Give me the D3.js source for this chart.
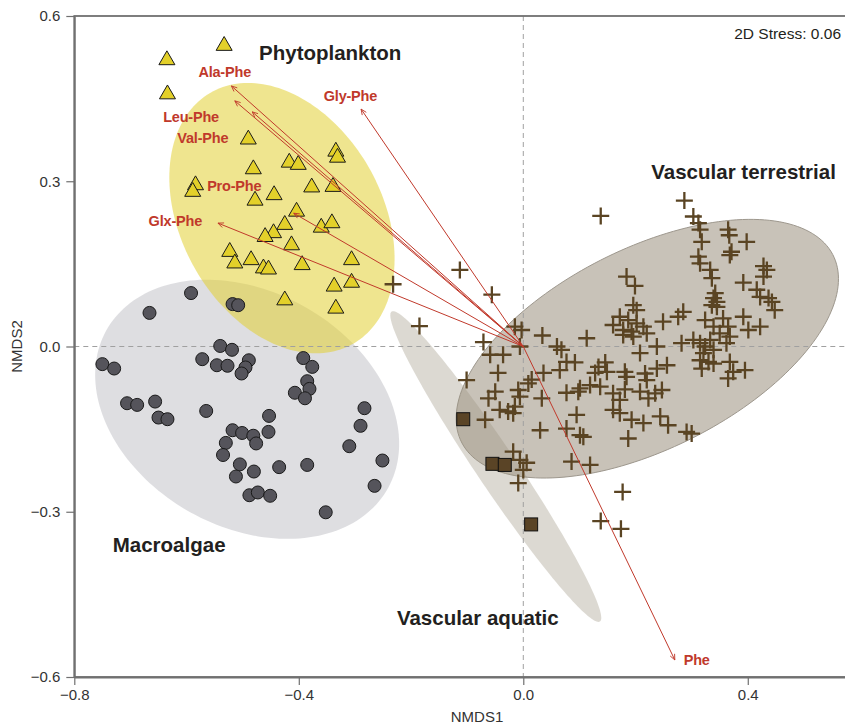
<!DOCTYPE html>
<html>
<head>
<meta charset="utf-8">
<script src="https://cdn.jsdelivr.net/npm/d3@7"></script>
<style>
  body { margin: 0; background: #fff; }
  svg { display: block; }
  text { font-family: "Liberation Sans", Arial, sans-serif; }
</style>
</head>
<body>
<svg id="chart" width="845" height="725"></svg>
<script>
// NMDS site scores (NMDS1, NMDS2) per source group
const phytoplankton = [
  [-0.635, 0.520], [-0.533, 0.546], [-0.634, 0.458], [-0.490, 0.376], [-0.481, 0.322],
  [-0.584, 0.293], [-0.589, 0.281], [-0.478, 0.265], [-0.444, 0.275], [-0.417, 0.334],
  [-0.401, 0.330], [-0.377, 0.289], [-0.339, 0.290], [-0.334, 0.354], [-0.331, 0.343],
  [-0.404, 0.245], [-0.425, 0.221], [-0.445, 0.206], [-0.460, 0.199], [-0.360, 0.216],
  [-0.341, 0.224], [-0.413, 0.184], [-0.523, 0.172], [-0.514, 0.151], [-0.485, 0.157],
  [-0.463, 0.142], [-0.454, 0.140], [-0.394, 0.148], [-0.306, 0.157], [-0.306, 0.116],
  [-0.337, 0.109], [-0.425, 0.084], [-0.334, 0.069]
];

const macroalgae = [
  [-0.592, 0.097], [-0.518, 0.077], [-0.508, 0.075], [-0.666, 0.061], [-0.540, 0.001],
  [-0.519, -0.006], [-0.572, -0.023], [-0.546, -0.034], [-0.527, -0.035], [-0.489, -0.025],
  [-0.495, -0.038], [-0.502, -0.049], [-0.750, -0.032], [-0.729, -0.040], [-0.392, -0.021],
  [-0.376, -0.037], [-0.385, -0.063], [-0.381, -0.077], [-0.407, -0.084], [-0.389, -0.094],
  [-0.706, -0.103], [-0.688, -0.106], [-0.656, -0.100], [-0.650, -0.129], [-0.634, -0.132],
  [-0.565, -0.117], [-0.283, -0.112], [-0.290, -0.144], [-0.453, -0.126], [-0.518, -0.152],
  [-0.501, -0.157], [-0.481, -0.162], [-0.476, -0.176], [-0.454, -0.155], [-0.530, -0.175],
  [-0.535, -0.197], [-0.505, -0.214], [-0.480, -0.227], [-0.512, -0.236], [-0.435, -0.219],
  [-0.385, -0.215], [-0.310, -0.181], [-0.251, -0.207], [-0.265, -0.253], [-0.488, -0.270],
  [-0.473, -0.265], [-0.451, -0.271], [-0.352, -0.301]
];

const vascularAquatic = [
  [-0.107, -0.132], [-0.055, -0.213], [-0.033, -0.215], [0.014, -0.323]
];

const vascularTerrestrial = [
  [0.138, 0.237], [0.287, 0.265], [0.303, 0.236], [0.312, 0.224], [0.315, 0.212],
  [0.318, 0.190], [0.312, 0.163], [0.315, 0.151], [0.333, 0.139], [0.336, 0.124],
  [0.365, 0.212], [0.367, 0.202], [0.398, 0.190], [0.371, 0.172], [0.368, 0.166],
  [0.428, 0.146], [0.434, 0.139], [0.428, 0.127], [0.392, 0.116], [0.416, 0.103],
  [0.422, 0.090], [0.437, 0.088], [0.443, 0.081], [0.448, 0.066], [0.342, 0.097],
  [0.339, 0.088], [0.345, 0.081], [0.345, 0.072], [0.336, 0.075], [0.184, 0.127],
  [0.199, 0.110], [0.196, 0.075], [0.202, 0.066], [0.172, 0.054], [0.187, 0.048],
  [0.202, 0.042], [0.214, 0.036], [0.160, 0.039], [0.178, 0.030], [0.193, 0.027],
  [0.220, 0.024], [0.196, 0.018], [0.178, 0.021], [0.249, 0.045], [0.285, 0.063],
  [0.276, 0.054], [0.324, 0.048], [0.339, 0.036], [0.356, 0.051], [0.365, 0.036],
  [0.392, 0.054], [0.401, 0.030], [0.422, 0.036], [0.350, 0.024], [0.368, 0.018],
  [0.362, 0.006], [0.333, 0.012], [0.324, 0.000], [0.315, 0.006], [0.303, 0.012],
  [0.282, 0.006], [0.339, -0.006], [0.321, -0.012], [0.315, -0.025], [0.330, -0.028],
  [0.339, -0.031], [0.318, -0.040], [0.368, -0.028], [0.374, -0.046], [0.365, -0.058],
  [0.395, -0.043], [0.238, 0.000], [0.208, -0.012], [0.113, 0.015], [0.034, 0.020],
  [0.060, 0.000], [0.068, -0.006], [0.077, -0.028], [0.092, -0.029], [0.065, -0.043],
  [0.036, -0.048], [0.015, -0.060], [0.009, -0.067], [0.134, -0.037], [0.146, -0.029],
  [0.149, -0.046], [0.128, -0.048], [0.181, -0.046], [0.184, -0.055], [0.217, -0.049],
  [0.220, -0.061], [0.238, -0.040], [0.256, -0.034], [0.101, -0.076], [0.119, -0.070],
  [0.137, -0.073], [0.160, -0.085], [0.181, -0.078], [0.172, -0.097], [0.208, -0.082],
  [0.223, -0.094], [0.247, -0.079], [0.235, -0.085], [0.077, -0.084], [0.098, -0.082],
  [0.033, -0.094], [0.160, -0.115], [0.172, -0.121], [0.193, -0.133], [0.214, -0.139],
  [0.244, -0.127], [0.258, -0.143], [0.095, -0.124], [0.077, -0.149], [0.101, -0.161],
  [0.107, -0.164], [0.187, -0.167], [0.291, -0.155], [0.300, -0.158], [0.030, -0.152],
  [0.086, -0.209], [0.119, -0.215], [-0.009, -0.079], [-0.006, -0.091], [-0.015, -0.109],
  [-0.027, -0.118], [-0.018, -0.121], [-0.042, -0.115], [-0.050, -0.082], [-0.062, -0.094],
  [-0.068, -0.133], [-0.101, -0.061], [-0.045, -0.048], [-0.059, -0.015], [-0.036, -0.015],
  [-0.071, 0.008], [-0.006, 0.000], [-0.015, 0.036], [-0.003, 0.030], [-0.113, 0.139],
  [-0.056, 0.094], [-0.185, 0.037], [-0.232, 0.113], [-0.018, -0.191], [-0.006, -0.206],
  [0.006, -0.211], [0.000, -0.224], [-0.009, -0.248], [0.177, -0.264], [0.138, -0.317],
  [0.174, -0.331]
];

// Amino acid vectors (fitted onto the ordination)
const vectorNames = ["Ala-Phe", "Leu-Phe", "Val-Phe", "Gly-Phe", "Pro-Phe", "Glx-Phe", "Phe"];
const vectorX = [-0.520, -0.514, -0.483, -0.289, -0.409, -0.544, 0.270];
const vectorY = [0.473, 0.446, 0.426, 0.431, 0.242, 0.224, -0.569];
const vectorLabelX = [-0.532, -0.592, -0.571, -0.308, -0.515, -0.620, 0.309];
const vectorLabelY = [0.498, 0.417, 0.378, 0.455, 0.292, 0.227, -0.569];

// Group ellipses: centre, semi-axes and rotation (degrees), in NMDS units
const ellipseNames = ["Vascular terrestrial", "Vascular aquatic", "Macroalgae", "Phytoplankton"];
const ellipseCx = [0.221, -0.049, -0.492, -0.430];
const ellipseCy = [-0.004, -0.218, -0.114, 0.233];
const ellipseA = [0.372, 0.337, 0.289, 0.261];
const ellipseB = [0.181, 0.036, 0.2125, 0.180];
const ellipseAngle = [27.4, -56.6, -31.0, -62.0];

// Group name labels
const groupLabels = ["Phytoplankton", "Vascular terrestrial", "Macroalgae", "Vascular aquatic"];
const groupLabelX = [-0.344, 0.557, -0.631, -0.081];
const groupLabelY = [0.520, 0.304, -0.373, -0.506];
const groupLabelAnchor = ["middle", "end", "middle", "middle"];

const xTicks = [-0.8, -0.4, 0.0, 0.4];
const yTicks = [-0.6, -0.3, 0.0, 0.3, 0.6];
const stressText = "2D Stress: 0.06";

// ---------------------------------------------------------------
const svg = d3.select("#chart");

const x = d3.scaleLinear().domain([-0.8, 0.58]).range([74.3, 848.8]);
const y = d3.scaleLinear().domain([-0.6, 0.6]).range([677, 16]);

const ellipseStyle = {
  "Vascular terrestrial": { fill: "#918571", opacity: 0.5, stroke: "#9d978d" },
  "Vascular aquatic":     { fill: "#9b927e", opacity: 0.35, stroke: "none" },
  "Macroalgae":           { fill: "#d8d8dc", opacity: 0.85, stroke: "none" },
  "Phytoplankton":        { fill: "#e2d033", opacity: 0.55, stroke: "none" }
};

const defs = svg.append("defs");
defs.append("clipPath").attr("id", "plotClip")
  .append("rect")
  .attr("x", x(-0.8)).attr("y", y(0.6))
  .attr("width", x(0.58) - x(-0.8)).attr("height", y(-0.6) - y(0.6));

defs.append("marker")
  .attr("id", "arrowHead")
  .attr("viewBox", "0 0 10 10")
  .attr("refX", 9).attr("refY", 5)
  .attr("markerWidth", 7).attr("markerHeight", 7)
  .attr("markerUnits", "userSpaceOnUse")
  .attr("orient", "auto")
  .append("path")
  .attr("d", "M1,1.5 L9,5 L1,8.5")
  .attr("fill", "none")
  .attr("stroke", "#c0392b")
  .attr("stroke-width", 1.2);

const plot = svg.append("g").attr("clip-path", "url(#plotClip)");

// Ellipses
const ellipseLine = d3.line().x(d => x(d[0])).y(d => y(d[1])).curve(d3.curveLinearClosed);
ellipseNames.forEach((name, i) => {
  const th = ellipseAngle[i] * Math.PI / 180;
  const pts = d3.range(0, 360, 2).map(deg => {
    const t = deg * Math.PI / 180;
    const ex = ellipseA[i] * Math.cos(t), ey = ellipseB[i] * Math.sin(t);
    return [ellipseCx[i] + ex * Math.cos(th) - ey * Math.sin(th),
            ellipseCy[i] + ex * Math.sin(th) + ey * Math.cos(th)];
  });
  const st = ellipseStyle[name];
  plot.append("path")
    .attr("d", ellipseLine(pts))
    .attr("fill", st.fill)
    .attr("fill-opacity", st.opacity)
    .attr("stroke", st.stroke)
    .attr("stroke-width", 1);
});

// Zero reference lines
plot.append("line")
  .attr("x1", x(0)).attr("x2", x(0)).attr("y1", y(0.6)).attr("y2", y(-0.6))
  .attr("stroke", "#a0a0a0").attr("stroke-width", 1).attr("stroke-dasharray", "5,4");
plot.append("line")
  .attr("x1", x(-0.8)).attr("x2", x(0.58)).attr("y1", y(0)).attr("y2", y(0))
  .attr("stroke", "#a0a0a0").attr("stroke-width", 1).attr("stroke-dasharray", "5,4");

// Vascular terrestrial: crosses
plot.append("g").selectAll("path")
  .data(vascularTerrestrial).join("path")
  .attr("transform", d => `translate(${x(d[0])},${y(d[1])})`)
  .attr("d", "M-8.5,0H8.5M0,-8.5V8.5")
  .attr("stroke", "#5a4423")
  .attr("stroke-width", 2.3)
  .attr("fill", "none");

// Macroalgae: circles
plot.append("g").selectAll("circle")
  .data(macroalgae).join("circle")
  .attr("cx", d => x(d[0])).attr("cy", d => y(d[1]))
  .attr("r", 6.5)
  .attr("fill", "#55545b")
  .attr("stroke", "#1a1a1a")
  .attr("stroke-width", 1);

// Phytoplankton: triangles
plot.append("g").selectAll("path")
  .data(phytoplankton).join("path")
  .attr("transform", d => `translate(${x(d[0])},${y(d[1])})`)
  .attr("d", d3.symbol(d3.symbolTriangle).size(111))
  .attr("fill", "#e3d02a")
  .attr("stroke", "#1a1a1a")
  .attr("stroke-width", 1);

// Vascular aquatic: squares
plot.append("g").selectAll("rect")
  .data(vascularAquatic).join("rect")
  .attr("x", d => x(d[0]) - 6.5).attr("y", d => y(d[1]) - 6.5)
  .attr("width", 13).attr("height", 13)
  .attr("fill", "#5a4426")
  .attr("stroke", "#111")
  .attr("stroke-width", 1);

// Vectors
const vectors = vectorNames.map((n, i) => ({ name: n, vx: vectorX[i], vy: vectorY[i], lx: vectorLabelX[i], ly: vectorLabelY[i] }));
plot.append("g").selectAll("line")
  .data(vectors).join("line")
  .attr("x1", x(0)).attr("y1", y(0))
  .attr("x2", d => x(d.vx)).attr("y2", d => y(d.vy))
  .attr("stroke", "#c0392b")
  .attr("stroke-width", 1)
  .attr("marker-end", "url(#arrowHead)");

svg.append("g").selectAll("text")
  .data(vectors).join("text")
  .attr("x", d => x(d.lx)).attr("y", d => y(d.ly))
  .attr("text-anchor", "middle")
  .attr("dominant-baseline", "central")
  .attr("font-size", 14.5)
  .attr("font-weight", "bold")
  .attr("letter-spacing", -0.2)
  .attr("fill", "#c0392b")
  .text(d => d.name);

// Group labels
svg.append("g").selectAll("text")
  .data(groupLabels).join("text")
  .attr("x", (d, i) => x(groupLabelX[i]))
  .attr("y", (d, i) => y(groupLabelY[i]))
  .attr("text-anchor", (d, i) => groupLabelAnchor[i])
  .attr("font-size", 20.5)
  .attr("font-weight", "bold")
  .attr("fill", "#231f20")
  .text(d => d);

// Stress annotation
svg.append("text")
  .attr("x", 841).attr("y", 39)
  .attr("text-anchor", "end")
  .attr("font-size", 15.5)
  .attr("fill", "#231f20")
  .text(stressText);

// Frame and axes
const axisColor = "#707070";
svg.append("rect")
  .attr("x", x(-0.8)).attr("y", y(0.6))
  .attr("width", x(0.58) - x(-0.8)).attr("height", y(-0.6) - y(0.6))
  .attr("fill", "none").attr("stroke", axisColor).attr("stroke-width", 1.8);

const fmt = d3.format(".1f");
const xAxis = svg.append("g")
  .attr("transform", `translate(0,${y(-0.6)})`)
  .call(d3.axisBottom(x).tickValues(xTicks).tickFormat(fmt).tickSize(8).tickSizeOuter(0).tickPadding(4));
const yAxis = svg.append("g")
  .attr("transform", `translate(${x(-0.8)},0)`)
  .call(d3.axisLeft(y).tickValues(yTicks).tickFormat(fmt).tickSize(8).tickSizeOuter(0).tickPadding(6));

[xAxis, yAxis].forEach(ax => {
  ax.select(".domain").attr("stroke", axisColor).attr("stroke-width", 1.8);
  ax.selectAll(".tick line").attr("stroke", axisColor).attr("stroke-width", 1.2);
  ax.selectAll(".tick text")
    .attr("fill", "#333")
    .attr("font-size", 15)
    .attr("font-family", "\"Liberation Sans\", Arial, sans-serif");
});

svg.append("text")
  .attr("x", 477).attr("y", 722)
  .attr("text-anchor", "middle")
  .attr("font-size", 15)
  .attr("fill", "#333")
  .text("NMDS1");

svg.append("text")
  .attr("transform", `translate(22,${y(0)}) rotate(-90)`)
  .attr("text-anchor", "middle")
  .attr("font-size", 15)
  .attr("fill", "#333")
  .text("NMDS2");
</script>
</body>
</html>
